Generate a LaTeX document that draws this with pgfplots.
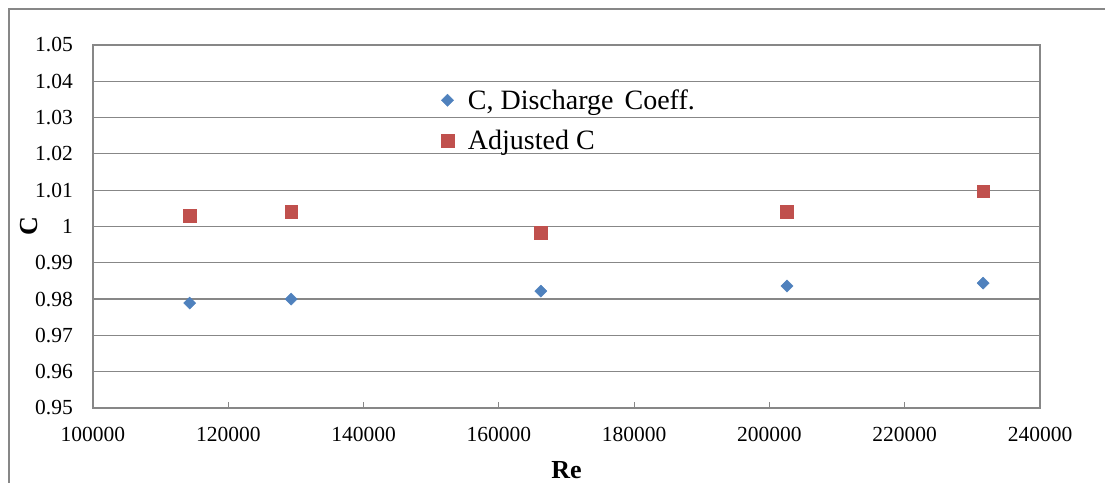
\documentclass[border=0pt]{standalone}
\usepackage{pgfplots}
\pgfplotsset{compat=1.18}
\usepackage{fontspec}
\setmainfont{Liberation Serif}
\definecolor{gridgray}{HTML}{878787}
\definecolor{cblue}{HTML}{4F81BD}
\definecolor{cred}{HTML}{C0504D}
\begin{document}
\begin{tikzpicture}
\useasboundingbox (-93bp,-75bp) rectangle (1012bp,408bp);
\draw[gridgray, line width=1.2bp] (-84bp,-90bp) -- (-84bp,399bp) -- (1030bp,399bp);
\begin{axis}[
  scale only axis, width=947bp, height=363bp,
  xmin=100000, xmax=240000, ymin=0.95, ymax=1.05,
  scaled x ticks=false, scaled y ticks=false,
  xtick={100000,120000,140000,160000,180000,200000,220000,240000},
  xticklabels={100000,120000,140000,160000,180000,200000,220000,240000},
  ytick={0.95,0.96,0.97,0.98,0.99,1,1.01,1.02,1.03,1.04,1.05},
  yticklabels={0.95,0.96,0.97,0.98,0.99,1,1.01,1.02,1.03,1.04,1.05},
  xtick pos=bottom, ytick pos=left,
  ymajorgrids,
  grid style={gridgray, line width=1.2bp},
  axis line style={gridgray, line width=1.2bp},
  xtick style={gridgray, line width=1bp},
  ytick style={draw=none},
  tick align=inside, major tick length=6bp,
  /pgf/number format/assume math mode=true,
  tick label style={font=\fontsize{21.5bp}{25bp}\selectfont, text=black},
  xticklabel style={inner sep=0pt, anchor=north, yshift=-19bp},
  yticklabel style={inner sep=0pt, anchor=east, xshift=-20bp},
  xlabel={\textbf{Re}}, ylabel={\textbf{C}},
  label style={font=\fontsize{26bp}{30bp}\selectfont},
  xlabel style={at={(axis description cs:0.5,-0.1708)}, anchor=center},
  ylabel style={at={(axis description cs:-0.0676,0.5)}, anchor=center},
  legend style={draw=none, fill=none, inner sep=0pt,
    font=\fontsize{28bp}{32bp}\selectfont,
    at={(axis description cs:0.3674,0.883)}, anchor=north west,
    row sep=15bp, column sep=12bp},
  legend cell align=left,
]
\addplot[only marks, mark=square*, mark size=4.3bp, mark options={rotate=45, fill=cblue, draw=cblue}] coordinates {
  (114300,0.9789) (129300,0.9800) (166200,0.9822) (202600,0.9836) (231600,0.9844)
};
\addlegendentry{C, Discharge\hspace{4bp} Coeff.}
\addplot[only marks, mark=square*, mark size=6.4bp, mark options={fill=cred, draw=cred}] coordinates {
  (114300,1.0029) (129300,1.0040) (166200,0.9983) (202600,1.0041) (231600,1.0097)
};
\addlegendentry{Adjusted C}
\end{axis}
\end{tikzpicture}
\end{document}
